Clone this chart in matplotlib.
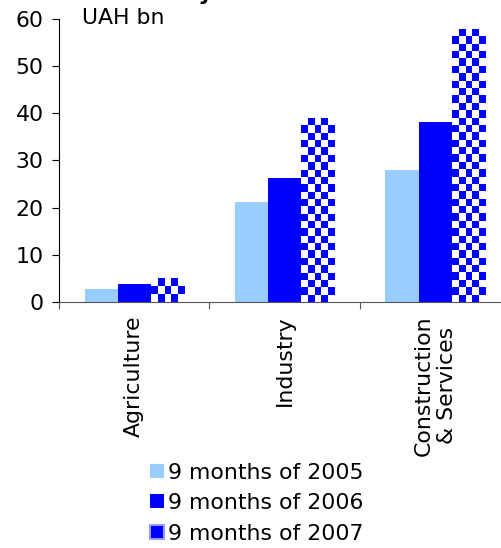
#!/usr/bin/env python3

import numpy as np
import matplotlib
matplotlib.use("Agg")
import matplotlib.pyplot as plt
from matplotlib.patches import Rectangle


# -----------------------------
# Data
# -----------------------------
SECTORS = ["Agriculture", "Industry", "Construction\n& Services"]
VAL_2005 = [2.7, 21.2, 28.0]
VAL_2006 = [3.8, 26.3, 38.1]
VAL_2007 = [5.0, 39.0, 57.8]
SERIES = ["9 months of 2005", "9 months of 2006", "9 months of 2007"]

LIGHT = "#99CCFF"
BLUE = "#0000FF"
FS = 15.8


def checker(ax, bar, cell_px=7.3):
    # fill a bar with a blue/white checkerboard clipped to its outline
    x0, w, h = bar.get_x(), bar.get_width(), bar.get_height()
    p0 = ax.transData.transform((x0, 0))
    p1 = ax.transData.transform((x0 + w, h))
    nx = max(1, int(round((p1[0] - p0[0]) / cell_px)))
    ny = max(1, int(round((p1[1] - p0[1]) / cell_px)))
    ii, jj = np.indices((ny, nx))
    board = (ii + jj) % 2
    img = np.ones((ny, nx, 3))
    img[board == 1] = [0, 0, 1]
    im = ax.imshow(img, extent=(x0, x0 + w, 0, h), aspect="auto",
                   interpolation="nearest", origin="upper", zorder=2)
    im.set_clip_path(bar)


def main():
    plt.rcParams["font.family"] = "DejaVu Sans"

    fig = plt.figure(figsize=(5.02, 5.48), dpi=100)
    ax = fig.add_axes([0.1175, 0.449, 0.8825, 0.5164])

    x = np.arange(len(SECTORS))
    bw = 0.22

    ax.bar(x - bw, VAL_2005, bw, color=LIGHT, zorder=2)
    ax.bar(x, VAL_2006, bw, color=BLUE, zorder=2)
    bars07 = ax.bar(x + bw, VAL_2007, bw, color="none", zorder=2)

    ax.set_xlim(-0.5, 2.445)
    ax.set_ylim(0, 60)
    fig.canvas.draw()
    for b in bars07:
        checker(ax, b)
    ax.set_xlim(-0.5, 2.445)
    ax.set_ylim(0, 60)

    ax.set_yticks([0, 10, 20, 30, 40, 50, 60])
    ax.tick_params(axis="y", labelsize=FS, length=5, direction="out", pad=6)

    # category boundaries as ticks, labels centred on each group
    ax.set_xticks([-0.5, 0.5, 1.5])
    ax.set_xticklabels([])
    ax.tick_params(axis="x", length=5, direction="out", color="#555555")
    for xi, name in zip(x, SECTORS):
        ax.text(xi, -2.8, name, rotation=90, ha="center", va="top",
                fontsize=FS, multialignment="center")

    ax.spines["top"].set_visible(False)
    ax.spines["right"].set_visible(False)
    ax.spines["bottom"].set_color("#555555")

    ax.text(-0.35, 60.2, "UAH bn", fontsize=FS, va="center", ha="left")

    fig.text(0.068, 1.0, "Investment by sector", fontsize=FS,
             fontweight="bold", ha="left", va="baseline")

    handles = [
        Rectangle((0, 0), 1, 1, facecolor=LIGHT, edgecolor="none"),
        Rectangle((0, 0), 1, 1, facecolor=BLUE, edgecolor="none"),
        Rectangle((0, 0), 1, 1, facecolor=BLUE, edgecolor="#9999FF", lw=1.5),
    ]
    fig.legend(handles, SERIES, loc="center", bbox_to_anchor=(0.512, 0.082),
               frameon=False, fontsize=FS, handlelength=0.6,
               handleheight=0.6, handletextpad=0.2, labelspacing=0.48)

    fig.savefig("out.png", dpi=100)
    plt.close(fig)


if __name__ == "__main__":
    main()
